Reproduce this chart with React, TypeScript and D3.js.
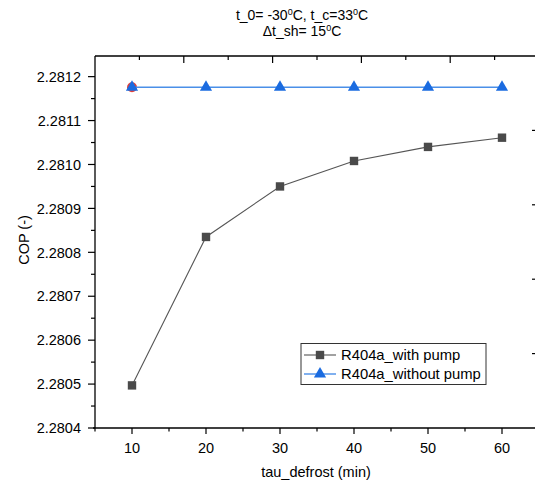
import React from "react";
import * as d3 from "d3";

const tauDefrost = [10, 20, 30, 40, 50, 60];
const copWithPump = [2.280497, 2.280835, 2.280950, 2.281008, 2.281040, 2.281061];
const copWithoutPump = [2.2811758, 2.2811758, 2.2811758, 2.2811758, 2.2811758, 2.2811758];
const xTicks = [10, 20, 30, 40, 50, 60];
const xMinorTicks = [5, 15, 25, 35, 45, 55, 65];
const yTicks = [2.2804, 2.2805, 2.2806, 2.2807, 2.2808, 2.2809, 2.281, 2.2811, 2.2812];
const seriesNames = ["R404a_with pump", "R404a_without pump"];

const W = 535, H = 486;
const L = 95, R = 539, T = 56, B = 428;
const FONT = "Arial, 'Liberation Sans', sans-serif";

export default function App() {
  const x = d3.scaleLinear().domain([5, 65]).range([L, R]);
  const y = d3.scaleLinear().domain([2.2804, 2.281247]).range([B, T]);
  const topS = d3.scaleLinear().domain([0, 5]).range([L, R]);
  const rightS = d3.scaleLinear().domain([0, 5]).range([B, T]);

  const yMinor = d3.range(0, 9).map((i) => 2.28045 + i * 0.0001).filter((v) => y(v) >= T);

  const line = d3.line<number>().x((_, i) => x(tauDefrost[i])).y((d) => y(d));
  const tri = d3.symbol().type(d3.symbolTriangle).size(64);

  const grayC = "#4a4a4a";
  const blueC = "#1a6be0";
  const blueLine = "#4a8fe8";

  return (
    <svg width={W} height={H} style={{ position: "absolute", left: 0, top: 0, background: "#fff" }} fontFamily={FONT}>
      {/* title */}
      <text x={302} y={20} fontSize={14} textAnchor="middle" fill="#000">
        t_0= -30<tspan fontSize={9} dy={-5}>0</tspan><tspan dy={5}>C, t_c=33</tspan><tspan fontSize={9} dy={-5}>0</tspan><tspan dy={5}>C</tspan>
      </text>
      <text x={302} y={36} fontSize={14} textAnchor="middle" fill="#000">
        Δt_sh= 15<tspan fontSize={9} dy={-5}>0</tspan><tspan dy={5}>C</tspan>
      </text>

      {/* frame */}
      <g stroke="#000" strokeWidth={1.3} fill="none">
        <line x1={L} y1={T} x2={L} y2={B} />
        <line x1={L - 2} y1={B} x2={R} y2={B} />
        <line x1={L} y1={T} x2={R} y2={T} />
        <line x1={R} y1={T} x2={R} y2={B} />
      </g>

      {/* bottom axis ticks */}
      <g stroke="#000" strokeWidth={1.2}>
        {xTicks.map((t) => <line key={"xt" + t} x1={x(t)} x2={x(t)} y1={B} y2={B + 6} />)}
        {xMinorTicks.map((t) => <line key={"xm" + t} x1={x(t)} x2={x(t)} y1={B} y2={B + 3.5} />)}
      </g>
      {xTicks.map((t) => (
        <text key={"xl" + t} x={x(t)} y={453} fontSize={14.5} textAnchor="middle" fill="#000">{t}</text>
      ))}

      {/* left axis ticks */}
      <g stroke="#000" strokeWidth={1.2}>
        {yTicks.map((t) => <line key={"yt" + t} x1={L - 7} x2={L} y1={y(t)} y2={y(t)} />)}
        {yMinor.map((t) => <line key={"ym" + t} x1={L - 4} x2={L} y1={y(t)} y2={y(t)} />)}
      </g>
      {yTicks.map((t) => (
        <text key={"yl" + t} x={81} y={y(t)} dy="0.36em" fontSize={14.5} textAnchor="end" fill="#000">{d3.format(".4f")(t)}</text>
      ))}

      {/* top axis ticks (inward) */}
      <g stroke="#000" strokeWidth={1.2}>
        {d3.range(1, 5).map((t) => <line key={"tt" + t} x1={topS(t)} x2={topS(t)} y1={T} y2={T + 7} />)}
        {d3.range(0.5, 5, 1).map((t) => <line key={"tm" + t} x1={topS(t)} x2={topS(t)} y1={T} y2={T + 4} />)}
      </g>
      {/* right axis ticks (inward) */}
      <g stroke="#000" strokeWidth={1.2}>
        {d3.range(1, 5).map((t) => <line key={"rt" + t} x1={R - 7} x2={R} y1={rightS(t)} y2={rightS(t)} />)}
        {d3.range(0.5, 5, 1).map((t) => <line key={"rm" + t} x1={R - 4} x2={R} y1={rightS(t)} y2={rightS(t)} />)}
      </g>

      {/* axis titles */}
      <text transform={`translate(29,240) rotate(-90)`} fontSize={14.5} textAnchor="middle" fill="#000">COP (-)</text>
      <text x={316} y={477} fontSize={14.5} textAnchor="middle" fill="#000">tau_defrost (min)</text>

      {/* series with pump */}
      <path d={line(copWithPump) || ""} fill="none" stroke="#555" strokeWidth={1.1} />
      {copWithPump.map((v, i) => (
        <rect key={"sq" + i} x={x(tauDefrost[i]) - 4.2} y={y(v) - 4.2} width={8.4} height={8.4} fill={grayC} />
      ))}

      {/* hidden red marker under first triangle */}
      <circle cx={x(tauDefrost[0])} cy={y(copWithoutPump[0])} r={5} fill="#e0403a" />

      {/* series without pump */}
      <path d={line(copWithoutPump) || ""} fill="none" stroke={blueLine} strokeWidth={1.4} />
      {copWithoutPump.map((v, i) => (
        <path key={"tr" + i} d={tri() || ""} transform={`translate(${x(tauDefrost[i])},${y(v)})`} fill={blueC} />
      ))}

      {/* legend */}
      <rect x={301} y={343.5} width={185} height={41} fill="#fff" stroke="#333" strokeWidth={1} />
      <line x1={304} x2={336} y1={355} y2={355} stroke="#555" strokeWidth={1.1} />
      <rect x={320 - 4.2} y={355 - 4.2} width={8.4} height={8.4} fill={grayC} />
      <text x={341} y={355} dy="0.36em" fontSize={14.8} fill="#000">{seriesNames[0]}</text>
      <line x1={304} x2={336} y1={374} y2={374} stroke={blueLine} strokeWidth={1.4} />
      <path d={tri() || ""} transform={`translate(320,374)`} fill={blueC} />
      <text x={341} y={374} dy="0.36em" fontSize={14.8} fill="#000">{seriesNames[1]}</text>
    </svg>
  );
}
